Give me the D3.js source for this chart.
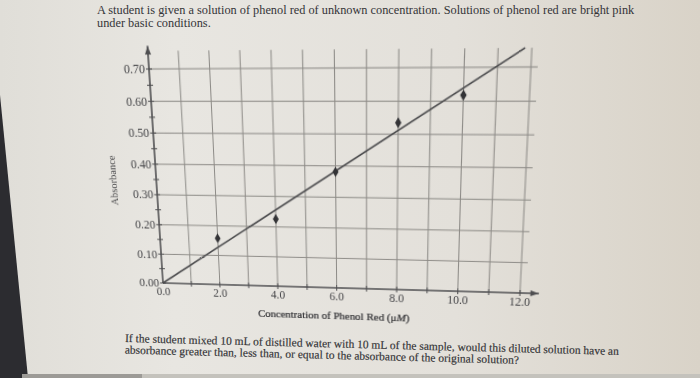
<!DOCTYPE html>
<html><head><meta charset="utf-8">
<script src="https://cdn.jsdelivr.net/npm/d3@7"></script>
<style>
body{margin:0;width:700px;height:378px;overflow:hidden;position:relative;background:#e4e2dc}
svg{position:absolute;left:0;top:0}
#chart{transform-origin:0 0}
text{font-family:"Liberation Serif","Times New Roman",serif}
</style></head>
<body>
<svg id="bg" width="700" height="378"></svg>
<svg id="chart" width="700" height="378"></svg>
<script>
// ---- data ----
const titleLines = ["A student is given a solution of phenol red of unknown concentration. Solutions of phenol red are bright pink", "under basic conditions."];
const questionLines = ["If the student mixed 10 mL of distilled water with 10 mL of the sample, would this diluted solution have an", "absorbance greater than, less than, or equal to the absorbance of the original solution?"];
const xAxisTitle = "Concentration of Phenol Red (";
const yAxisTitle = "Absorbance";
const concentrations = [2, 4, 6, 8, 10];
const absorbances = [0.158, 0.226, 0.381, 0.535, 0.618];
const fitX = [0, 11.8];
const fitY = [0, 0.755];
const xTickValues = [0, 2, 4, 6, 8, 10, 12];
const xTickLabels = ["0.0", "2.0", "4.0", "6.0", "8.0", "10.0", "12.0"];
const xGridValues = [1, 2, 3, 4, 5, 6, 7, 8, 9, 10, 11, 12];
const yTickValues = [0, 0.1, 0.2, 0.3, 0.4, 0.5, 0.6, 0.7];
const yTickLabels = ["0.00", "0.10", "0.20", "0.30", "0.40", "0.50", "0.60", "0.70"];
const yMinorValues = [0.05, 0.15, 0.25, 0.35, 0.45, 0.55, 0.65];

// ---- background (photo paper) ----
const bg = d3.select("#bg");
const defs = bg.append("defs");
const g1 = defs.append("linearGradient").attr("id", "paper").attr("x1", 0).attr("x2", 1).attr("y1", 0).attr("y2", 0);
g1.append("stop").attr("offset", "0%").attr("stop-color", "#e0ded8");
g1.append("stop").attr("offset", "25%").attr("stop-color", "#e8e6e1");
g1.append("stop").attr("offset", "65%").attr("stop-color", "#e3e0da");
g1.append("stop").attr("offset", "100%").attr("stop-color", "#d9d3c8");
bg.append("rect").attr("width", 700).attr("height", 378).attr("fill", "url(#paper)");
bg.append("path").attr("d", "M0,95 L0,378 L28,378 Z").attr("fill", "#2c2c30");
bg.append("rect").attr("x", 22).attr("y", 374).attr("width", 678).attr("height", 4).attr("fill", "#c4c2bc");
bg.append("rect").attr("x", 22).attr("y", 374).attr("width", 120).attr("height", 4).attr("fill", "#9c9a96");

const tg = bg.append("g").attr("fill", "#343438").style("font-size", "12.3px");
titleLines.forEach((t, i) => tg.append("text").attr("x", 97).attr("y", 14 + i * 13).text(t));

const qg = bg.append("g").attr("fill", "#333336").style("font-size", "11.5px")
  .attr("stroke", "#333336").attr("stroke-width", 0.15)
  .attr("transform", "rotate(1.5,125,342)");
questionLines.forEach((t, i) => qg.append("text").attr("x", 125).attr("y", 342 + i * 11.5).text(t));

// ---- chart (ideal rectangular layout, then perspective like the photo) ----
const svg = d3.select("#chart");
const x = d3.scaleLinear().domain([0, 12]).range([163, 520]);
const y = d3.scaleLinear().domain([0, 0.7]).range([283, 69]);
const gridCol = "#8d8b87", axisCol = "#4e4e50";

const grid = svg.append("g").attr("stroke", gridCol).attr("stroke-width", 1);
grid.selectAll(".vg").data(xGridValues).join("line")
  .attr("x1", d => x(d)).attr("x2", d => x(d)).attr("y1", y(0)).attr("y2", y(0.755));
grid.selectAll(".hg").data(yTickValues.slice(1)).join("line")
  .attr("x1", x(0)).attr("x2", x(12.2)).attr("y1", d => y(d)).attr("y2", d => y(d));

// axes with crossing ticks
const ax = svg.append("g").attr("stroke", axisCol);
ax.append("line").attr("x1", x(0)).attr("x2", x(12.6)).attr("y1", y(0)).attr("y2", y(0)).attr("stroke-width", 1.6);
ax.append("line").attr("x1", x(0)).attr("x2", x(0)).attr("y1", y(0)).attr("y2", y(0.77)).attr("stroke-width", 1.6);
ax.append("path").attr("d", `M${x(12.6)},${y(0)} l-8,-3 l0,6 Z`).attr("fill", axisCol).attr("stroke", "none");
ax.append("path").attr("d", `M${x(0)},${y(0.77)} l-3,8 l6,0 Z`).attr("fill", axisCol).attr("stroke", "none");
ax.selectAll(".xt").data(d3.range(1, 13)).join("line")
  .attr("x1", d => x(d)).attr("x2", d => x(d)).attr("y1", y(0) - 3).attr("y2", y(0) + 3).attr("stroke-width", 1);
ax.selectAll(".yt").data(yTickValues.concat(yMinorValues)).join("line")
  .attr("x1", x(0) - 3).attr("x2", x(0) + 3).attr("y1", d => y(d)).attr("y2", d => y(d)).attr("stroke-width", 1);

const lab = svg.append("g").attr("fill", "#444447");
lab.selectAll(".yl").data(yTickValues).join("text")
  .attr("x", x(0) - 4).attr("y", d => y(d)).attr("dy", "0.35em").attr("text-anchor", "end")
  .style("font-size", "12px").text((d, i) => yTickLabels[i]);
lab.selectAll(".xl").data(xTickValues).join("text")
  .attr("x", d => x(d)).attr("y", y(0) + 13).attr("text-anchor", "middle")
  .style("font-size", "11.5px").text((d, i) => xTickLabels[i]);

const xt = svg.append("text").attr("x", (x(0) + x(12)) / 2 - 4).attr("y", y(0) + 33)
  .attr("text-anchor", "middle").attr("fill", "#323235").attr("stroke", "#323235").attr("stroke-width", 0.25)
  .style("font-size", "11px");
xt.append("tspan").text(xAxisTitle);
xt.append("tspan").text("\u03bc");
xt.append("tspan").style("font-style", "italic").text("M");
xt.append("tspan").text(")");

svg.append("text").attr("transform", `translate(${x(0) - 41},${y(0.345)}) rotate(-90)`)
  .attr("text-anchor", "middle").attr("fill", "#4a4a4c").style("font-size", "10.5px").text(yAxisTitle);

// fit line
svg.append("line").attr("x1", x(fitX[0])).attr("y1", y(fitY[0])).attr("x2", x(fitX[1])).attr("y2", y(fitY[1]))
  .attr("stroke", "#4a4a4c").attr("stroke-width", 1.6);

// data points
svg.selectAll(".pt").data(concentrations).join("path")
  .attr("transform", (d, i) => `translate(${x(d)},${y(absorbances[i])})`)
  .attr("d", d3.symbol(d3.symbolDiamond, 30)).attr("fill", "#333336");

// ---- perspective (homography) matching the photographed sheet ----
function homography(src, dst) {
  const A = [], b = [];
  for (let i = 0; i < 4; i++) {
    const [sx, sy] = src[i], [u, v] = dst[i];
    A.push([sx, sy, 1, 0, 0, 0, -sx * u, -sy * u]); b.push(u);
    A.push([0, 0, 0, sx, sy, 1, -sx * v, -sy * v]); b.push(v);
  }
  const n = 8;
  for (let c = 0; c < n; c++) {
    let p = c;
    for (let r = c + 1; r < n; r++) if (Math.abs(A[r][c]) > Math.abs(A[p][c])) p = r;
    [A[c], A[p]] = [A[p], A[c]]; [b[c], b[p]] = [b[p], b[c]];
    for (let r = 0; r < n; r++) {
      if (r === c) continue;
      const f = A[r][c] / A[c][c];
      for (let k = c; k < n; k++) A[r][k] -= f * A[c][k];
      b[r] -= f * b[c];
    }
  }
  return b.map((v, i) => v / A[i][i]);
}
const [a, bb, c, dd, e, f, g, h] = homography(
  [[x(0), y(0)], [x(12), y(0)], [x(0), y(0.7)], [x(12), y(0.7)]],
  [[163, 283], [520, 293], [149, 69], [531, 67]]);
document.getElementById("chart").style.transform =
  `matrix3d(${a},${dd},0,${g},${bb},${e},0,${h},0,0,1,0,${c},${f},0,1)`;
</script>
</body></html>
